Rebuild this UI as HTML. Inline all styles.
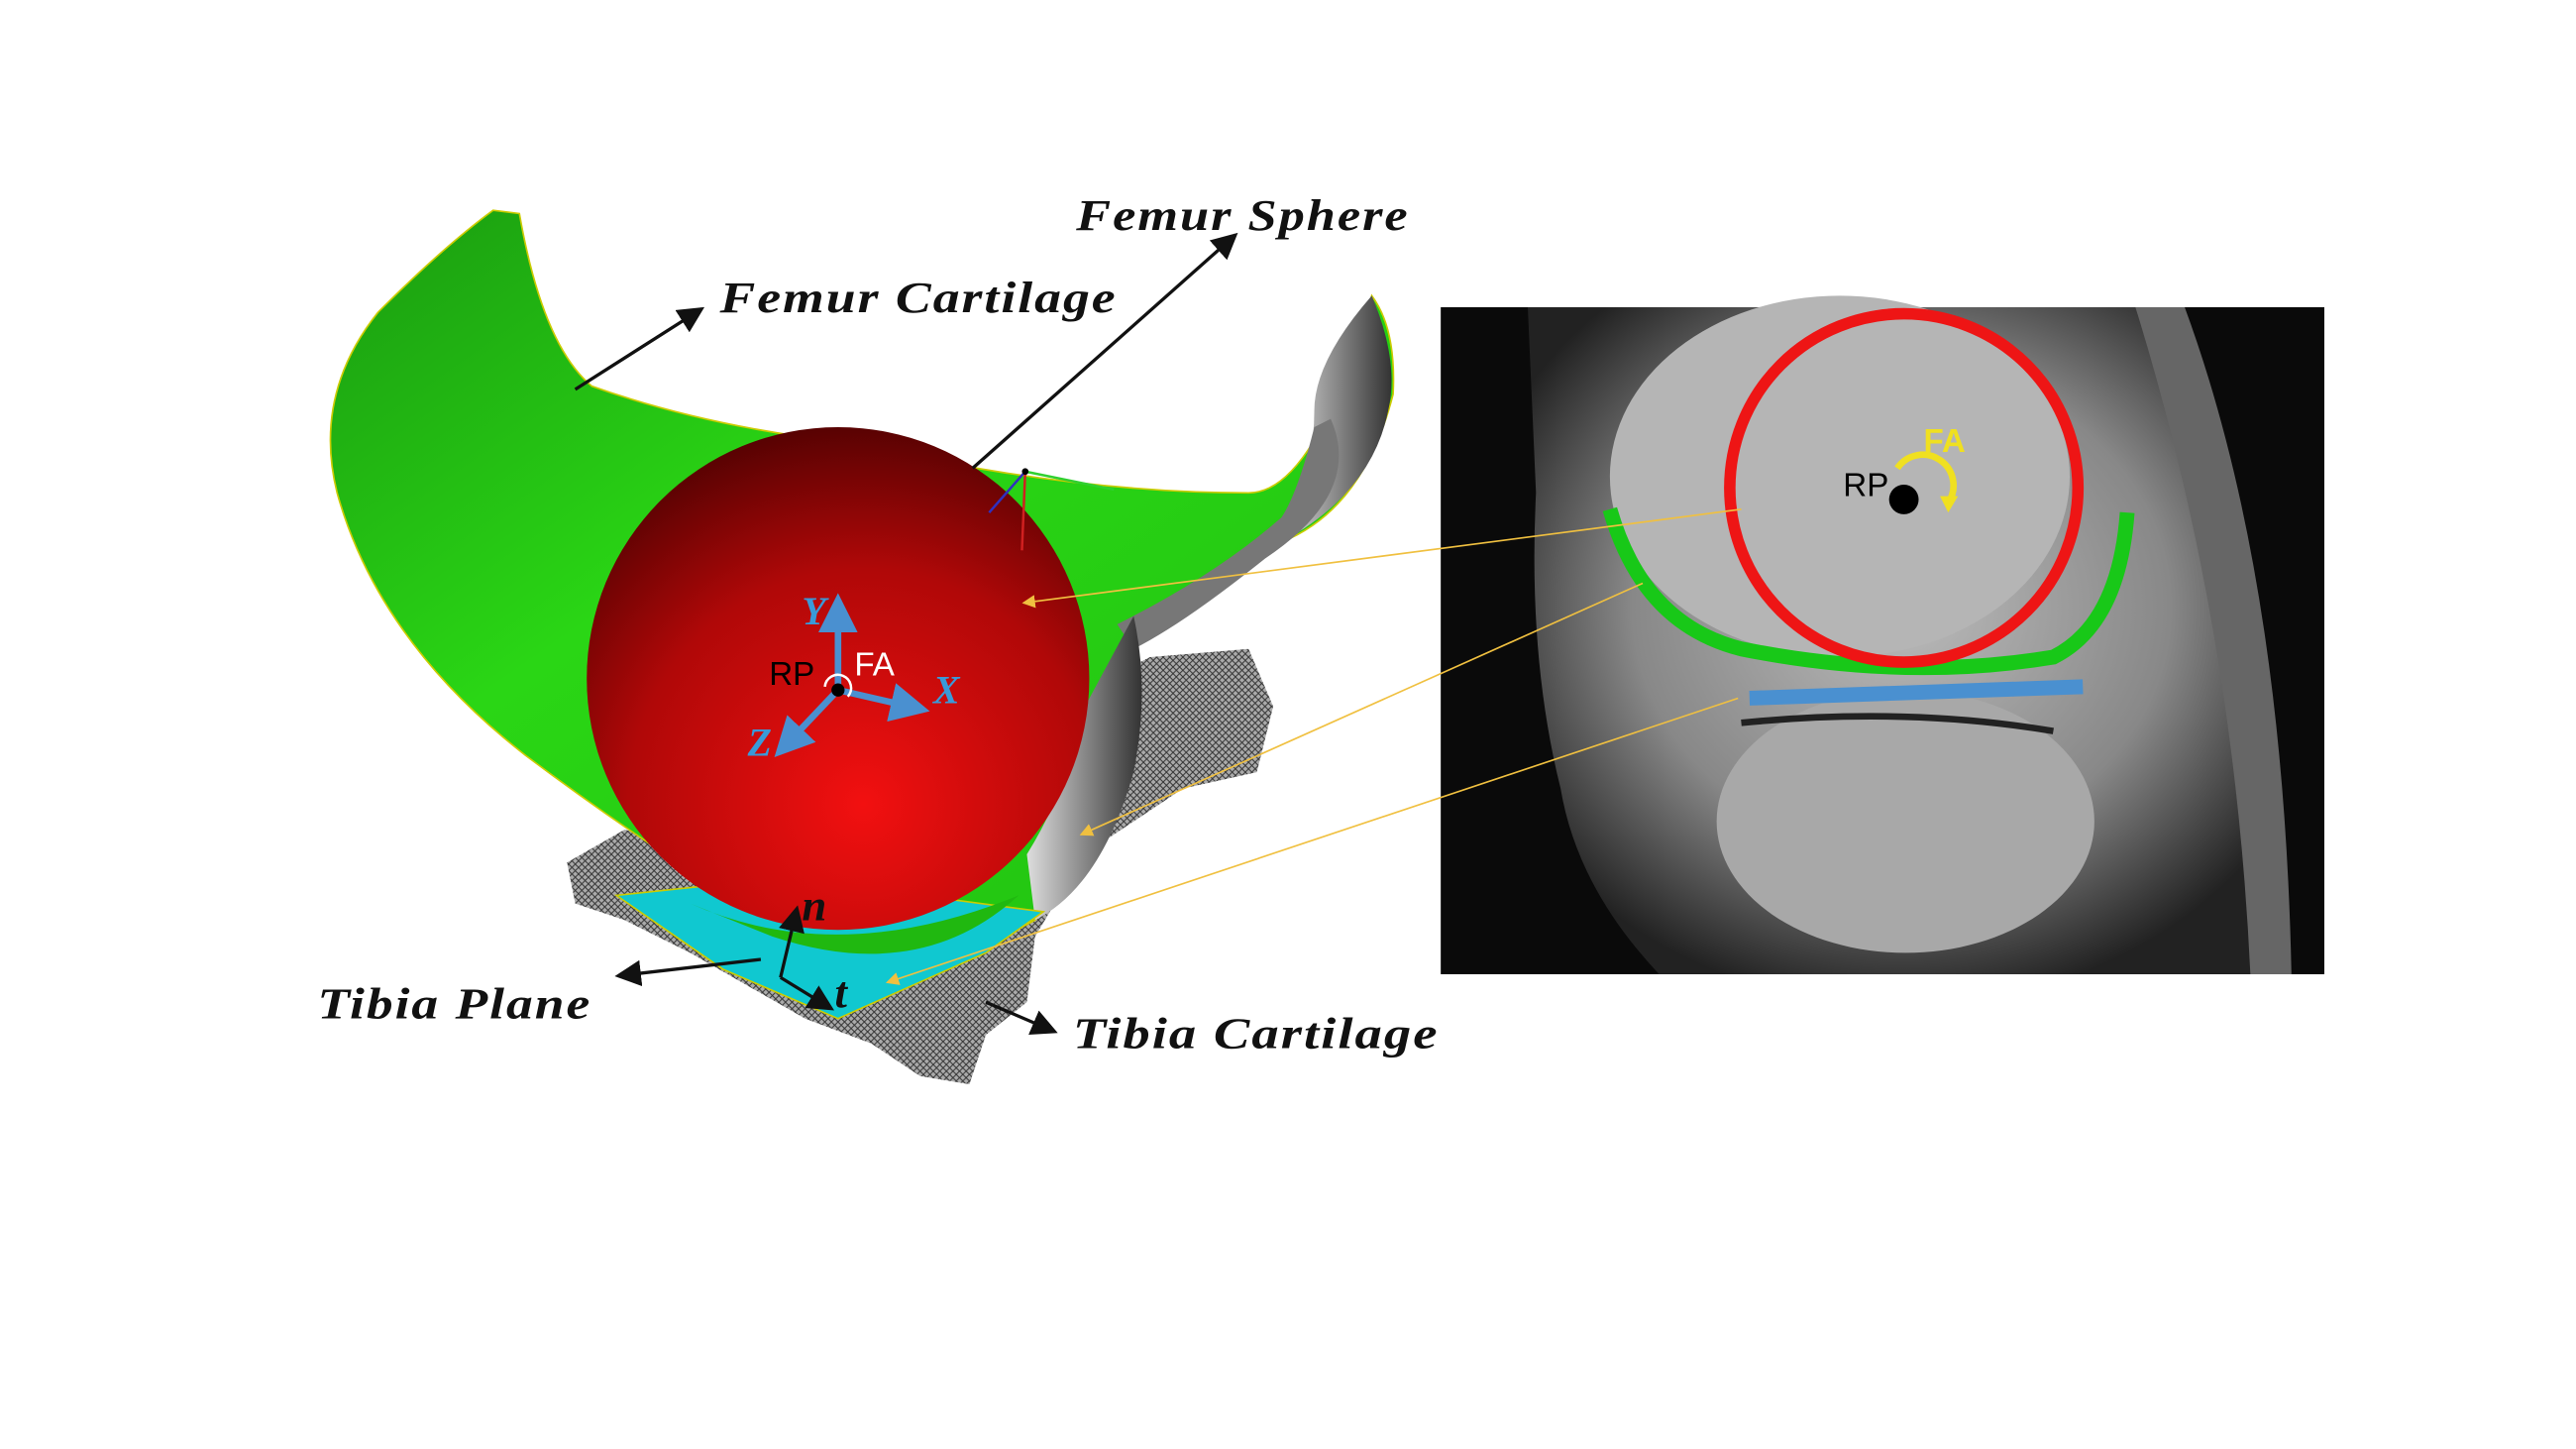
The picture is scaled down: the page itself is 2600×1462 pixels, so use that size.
<!DOCTYPE html>
<html><head><meta charset="utf-8"><style>
html,body{margin:0;padding:0;background:#fff;width:2600px;height:1462px;overflow:hidden}
svg{display:block}
.lb{font-family:"Liberation Serif",serif;font-weight:bold;font-style:italic;font-size:27px;fill:#111;letter-spacing:1px}
</style></head><body>
<svg width="2600" height="1462" viewBox="0 0 1568 882" xmlns="http://www.w3.org/2000/svg">
<defs>
<radialGradient id="sph" cx="0.55" cy="0.75" r="0.85">
<stop offset="0" stop-color="#f21010"/><stop offset="0.55" stop-color="#b00808"/><stop offset="1" stop-color="#3a0000"/>
</radialGradient>
<linearGradient id="grn" x1="0" y1="0" x2="1" y2="1">
<stop offset="0" stop-color="#1a9a10"/><stop offset="0.4" stop-color="#2ad615"/><stop offset="1" stop-color="#20c010"/>
</linearGradient>
<linearGradient id="gry" x1="0" y1="0" x2="1" y2="0">
<stop offset="0" stop-color="#ddd"/><stop offset="0.5" stop-color="#888"/><stop offset="1" stop-color="#333"/>
</linearGradient>
<pattern id="mesh" width="4" height="4" patternUnits="userSpaceOnUse">
<rect width="4" height="4" fill="#aaa"/><path d="M0 0L4 4M4 0L0 4" stroke="#333" stroke-width="0.6"/>
</pattern>
<radialGradient id="mri" cx="0.5" cy="0.45" r="0.6">
<stop offset="0" stop-color="#bbb"/><stop offset="0.6" stop-color="#888"/><stop offset="1" stop-color="#222"/>
</radialGradient>
<marker id="ar" markerWidth="8" markerHeight="8" refX="7" refY="4" orient="auto"><path d="M0,0L8,4L0,8z" fill="#111"/></marker>
<marker id="ay" markerWidth="8" markerHeight="8" refX="7" refY="4" orient="auto"><path d="M0,0L8,4L0,8z" fill="#f0c040"/></marker>
<marker id="ab" markerWidth="6" markerHeight="6" refX="5" refY="3" orient="auto"><path d="M0,0L6,3L0,6z" fill="#4a90d0"/></marker>
</defs>

<path d="M345 525 L380 505 L420 515 L470 480 L560 470 L640 430 L700 400 L760 395 L775 430 L765 470 L720 480 L660 520 L630 570 L625 610 L600 630 L590 660 L560 655 L530 635 L490 620 L420 580 L380 560 L350 550 Z" fill="url(#mesh)"/>
<path d="M300 128 L316 130 Q330 210 360 235 Q430 260 520 270 Q650 300 760 300 Q800 300 835 180 Q850 200 848 240 Q830 310 780 330 Q720 380 690 390 L690 440 Q680 520 630 560 Q560 600 470 560 Q400 520 320 460 Q230 390 205 300 Q190 240 230 190 Q270 150 300 128 Z" fill="url(#grn)" stroke="#cc0" stroke-width="1"/>
<path d="M835 180 Q852 220 845 250 Q835 300 780 330 L780 320 Q800 290 800 250 Q800 220 835 180 Z" fill="url(#gry)"/>
<path d="M780 315 Q790 300 800 260 L810 255 Q830 300 770 340 Q720 380 690 395 L680 380 Q740 350 780 315Z" fill="#777"/>
<path d="M690 375 Q700 420 690 470 Q670 540 630 560 L625 520 Q650 480 655 440 Z" fill="url(#gry)"/>
<path d="M375 545 L470 535 L560 545 L635 555 L600 580 L510 620 L440 590 Z" fill="#10c8d0" stroke="#cc0" stroke-width="1"/>
<circle cx="510" cy="413" r="153" fill="url(#sph)"/>
<path d="M420 550 Q510 590 620 545 Q560 600 470 570 Z" fill="#20b810"/>
<line x1="624" y1="287" x2="678" y2="298" stroke="#30d030" stroke-width="1.5"/>
<line x1="624" y1="287" x2="622" y2="335" stroke="#d02020" stroke-width="1.5"/>
<line x1="624" y1="287" x2="602" y2="312" stroke="#3030c0" stroke-width="1.5"/>
<circle cx="624" cy="287" r="2" fill="#000"/>
<g stroke="#4a90d0" stroke-width="4" fill="none">
<line x1="510" y1="420" x2="510" y2="365" marker-end="url(#ab)"/>
<line x1="510" y1="420" x2="562" y2="432" marker-end="url(#ab)"/>
<line x1="510" y1="420" x2="474" y2="458" marker-end="url(#ab)"/>
</g>
<circle cx="510" cy="420" r="4" fill="#000"/>
<path d="M502 418 A8 8 0 1 1 516 424" stroke="#fff" stroke-width="1.5" fill="none"/>
<text x="488" y="380" font-family="Liberation Serif,serif" font-weight="bold" font-style="italic" font-size="24" fill="#3a9ad9">Y</text>
<text x="568" y="428" font-family="Liberation Serif,serif" font-weight="bold" font-style="italic" font-size="24" fill="#3a9ad9">X</text>
<text x="455" y="460" font-family="Liberation Serif,serif" font-weight="bold" font-style="italic" font-size="24" fill="#3a9ad9">Z</text>
<text x="468" y="417" font-family="Liberation Sans,sans-serif" font-size="20" fill="#000">RP</text>
<text x="520" y="411" font-family="Liberation Sans,sans-serif" font-size="20" fill="#fff">FA</text>
<g stroke="#111" stroke-width="2" fill="none">
<line x1="475" y1="595" x2="485" y2="553" marker-end="url(#ar)"/>
<line x1="475" y1="595" x2="506" y2="614" marker-end="url(#ar)"/>
</g>
<text x="488" y="560" class="lb" font-size="22">n</text>
<text x="508" y="613" class="lb" font-size="22">t</text>

<g stroke="#111" stroke-width="2" fill="none">
<line x1="350" y1="237" x2="427" y2="188" marker-end="url(#ar)"/>
<line x1="592" y1="285" x2="752" y2="143" marker-end="url(#ar)"/>
<line x1="463" y1="584" x2="376" y2="594" marker-end="url(#ar)"/>
<line x1="600" y1="610" x2="642" y2="628" marker-end="url(#ar)"/>
</g>
<text x="438" y="190" class="lb" textLength="242" lengthAdjust="spacingAndGlyphs">Femur Cartilage</text>
<text x="655" y="140" class="lb" textLength="203" lengthAdjust="spacingAndGlyphs">Femur Sphere</text>
<text x="193" y="620" class="lb" textLength="167" lengthAdjust="spacingAndGlyphs">Tibia Plane</text>
<text x="653" y="638" class="lb" textLength="223" lengthAdjust="spacingAndGlyphs">Tibia Cartilage</text>

<rect x="877" y="187" width="538" height="406" fill="#0a0a0a"/>
<path d="M930 187 L1330 187 Q1370 260 1380 380 L1385 593 L1010 593 Q960 540 950 480 Q930 400 935 300 Z" fill="url(#mri)"/>
<ellipse cx="1120" cy="290" rx="140" ry="110" fill="#b5b5b5"/>
<ellipse cx="1160" cy="500" rx="115" ry="80" fill="#a8a8a8"/>
<path d="M1060 440 Q1160 430 1250 445" stroke="#222" stroke-width="4" fill="none"/>
<path d="M1300 187 L1360 187 Q1400 300 1400 593 L1370 593 Q1360 380 1300 187Z" fill="#666"/>
<path d="M1330 187 L1415 187 L1415 593 L1395 593 Q1390 350 1330 187Z" fill="#0a0a0a"/>
<path d="M980 310 Q1000 380 1060 395 Q1160 415 1250 400 Q1290 380 1295 312" stroke="#18c818" stroke-width="9" fill="none"/>
<circle cx="1159" cy="297" r="106" stroke="#ee1515" stroke-width="7" fill="none"/>
<line x1="1065" y1="425" x2="1268" y2="418" stroke="#4a90d0" stroke-width="9"/>
<circle cx="1159" cy="304" r="9" fill="#000"/>
<path d="M1155 285 A14 14 0 1 1 1186 306" stroke="#f0e020" stroke-width="4" fill="none"/>
<path d="M1181 302 L1192 302 L1186 312Z" fill="#f0e020"/>
<text x="1122" y="302" font-family="Liberation Sans,sans-serif" font-size="20" fill="#000">RP</text>
<text x="1171" y="275" font-family="Liberation Sans,sans-serif" font-weight="bold" font-size="20" fill="#f0e020">FA</text>
<g stroke="#f0c040" stroke-width="1" fill="none">
<line x1="1060" y1="310" x2="623" y2="367" marker-end="url(#ay)"/>
<line x1="1000" y1="355" x2="658" y2="508" marker-end="url(#ay)"/>
<line x1="1058" y1="425" x2="540" y2="598" marker-end="url(#ay)"/>
</g>
</svg>
</body></html>
